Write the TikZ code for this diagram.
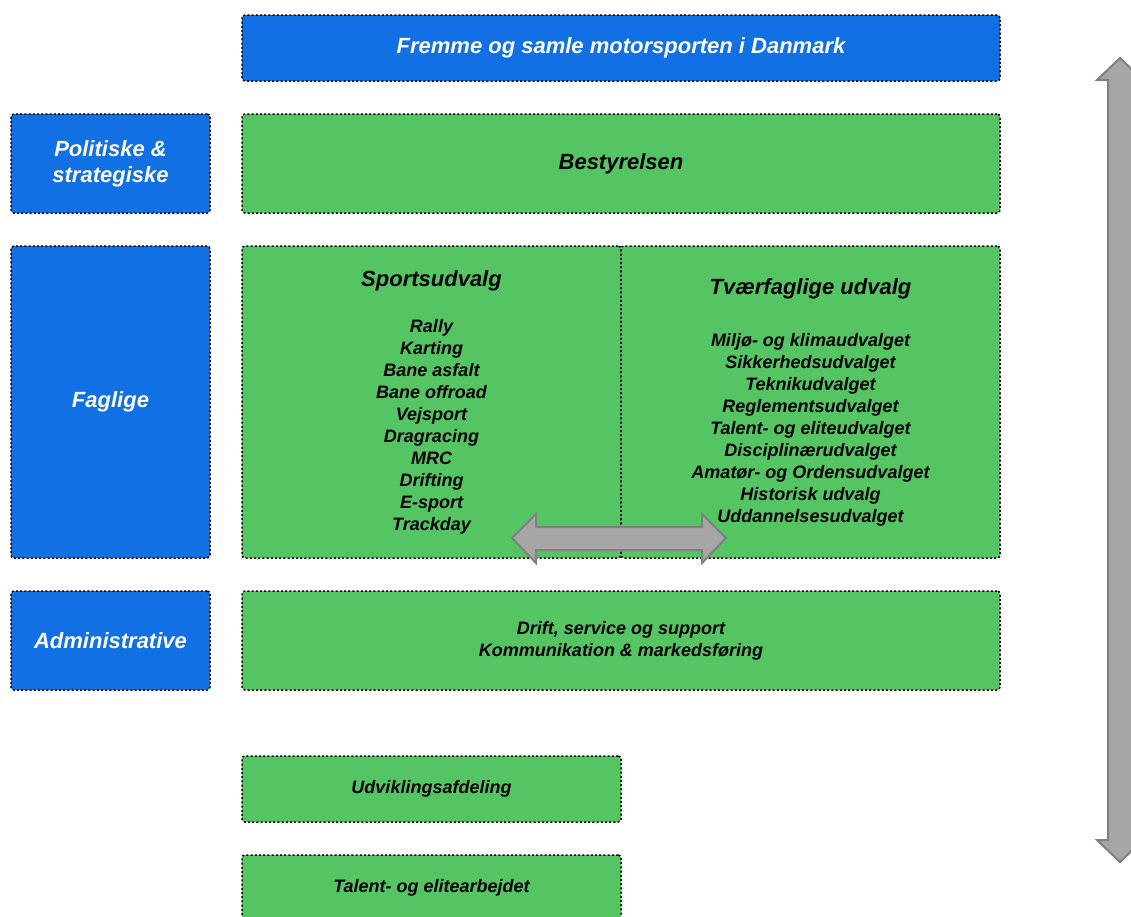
\documentclass[tikz,border=0pt]{standalone}
\usepackage{fontspec}
\setmainfont{Liberation Sans}
\usepackage{tikz}
\usetikzlibrary{positioning}

\definecolor{dmublue}{HTML}{1170E3}
\definecolor{dmugreen}{HTML}{55C463}
\definecolor{arrowfill}{HTML}{A6A6A6}
\definecolor{arrowedge}{HTML}{808080}

\tikzset{
  unitbox/.style={draw=black, line width=1.5pt, dash pattern=on 2pt off 2.2pt,
    rounded corners=3pt, align=center, inner sep=0pt, outer sep=0pt,
    font=\bfseries\itshape\fontsize{22}{26}\selectfont},
  bluebox/.style={unitbox, fill=dmublue, text=white},
  greenbox/.style={unitbox, fill=dmugreen, text=black},
  listtext/.style={font=\bfseries\itshape\fontsize{18}{22}\selectfont},
  bigarrow/.style={fill=arrowfill, draw=arrowedge, line width=2pt}
}

\begin{document}
\begin{tikzpicture}[x=1pt,y=-1pt]
\useasboundingbox (0,0) rectangle (1131,916);
\clip (0,0) rectangle (1131,916);
\node[bluebox, minimum width=758pt, minimum height=66pt] (mission) at (621,48) {Fremme og samle motorsporten i Danmark};
\node[bluebox, minimum width=199pt, minimum height=99pt] (politiske) at (110.5,163.5) {Politiske \&\\strategiske};
\node[greenbox, minimum width=758pt, minimum height=99pt] (board) at (621,163.5) {Bestyrelsen};
\node[bluebox, minimum width=199pt, minimum height=312pt] (faglige) at (110.5,402) {Faglige};
\node[greenbox, listtext, minimum width=379pt, minimum height=312pt] (sports) at (431.5,402)
  {{\fontsize{22}{26}\selectfont Sportsudvalg}\\[24pt]
   Rally\\Karting\\Bane asfalt\\Bane offroad\\Vejsport\\Dragracing\\MRC\\Drifting\\E-sport\\Trackday};
\node[greenbox, listtext, minimum width=379pt, minimum height=312pt, right=0pt of sports] (tvaer)
  {{\fontsize{22}{26}\selectfont Tværfaglige udvalg}\\[30pt]
   Miljø- og klimaudvalget\\Sikkerhedsudvalget\\Teknikudvalget\\Reglementsudvalget\\
   Talent- og eliteudvalget\\Disciplinærudvalget\\Amatør- og Ordensudvalget\\Historisk udvalg\\Uddannelsesudvalget};
\node[bluebox, minimum width=199pt, minimum height=99pt] (admin) at (110.5,640.5) {Administrative};
\node[greenbox, listtext, minimum width=758pt, minimum height=99pt] (drift) at (621,640.5)
  {Drift, service og support\\Kommunikation \& markedsføring};
\node[greenbox, listtext, minimum width=379pt, minimum height=66pt] (udvikling) at (431.5,789) {Udviklingsafdeling};
\node[greenbox, listtext, minimum width=379pt, minimum height=66pt] (talent) at (431.5,888) {Talent- og elitearbejdet};

\draw[bigarrow] (512,538) -- (536,514) -- (536,527) -- (702,527) -- (702,514) -- (726,538)
  -- (702,563) -- (702,550) -- (536,550) -- (536,563) -- cycle;
\draw[bigarrow] (1120,58) -- (1143,80) -- (1132,80) -- (1132,840) -- (1143,840) -- (1120,862)
  -- (1097,840) -- (1108,840) -- (1108,80) -- (1097,80) -- cycle;
\end{tikzpicture}
\end{document}
